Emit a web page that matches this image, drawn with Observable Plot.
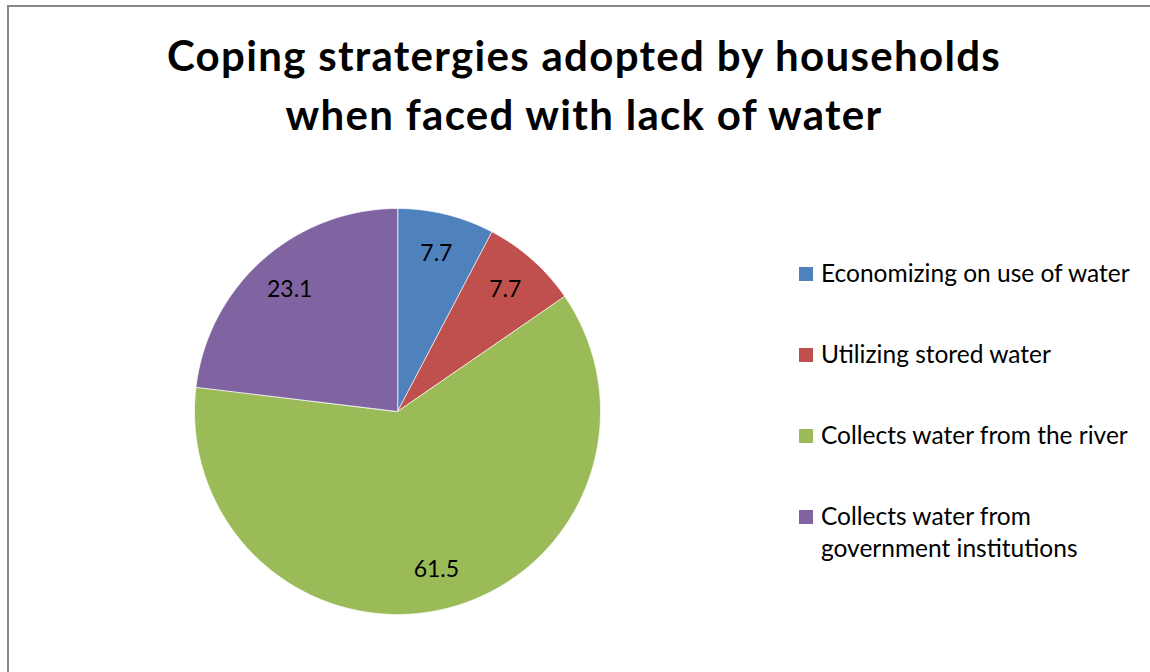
<!DOCTYPE html>
<html><head><meta charset="utf-8">
<script src="https://cdn.jsdelivr.net/npm/d3@7"></script>
<script src="https://cdn.jsdelivr.net/npm/@observablehq/plot@0.6"></script>
<style>
body{margin:0;background:#fff;}
#wrap{position:relative;width:1150px;height:672px;overflow:hidden;background:#fff;font-family:Lato,"Open Sans",sans-serif;color:#000;}
#frame{position:absolute;left:7px;top:5px;width:2000px;height:2000px;border-left:2px solid #878787;border-top:2px solid #878787;}
#plot{position:absolute;left:0;top:0;}
#title{position:absolute;left:0;top:26px;width:1168px;text-align:center;font-weight:bold;font-size:42px;letter-spacing:1.3px;line-height:59px;}
#legend{position:absolute;left:799px;top:257px;display:flex;flex-direction:column;gap:49px;}
.item{position:relative;padding-left:22px;width:330px;font-size:24.5px;line-height:32px;}
.sw{position:absolute;left:0;top:10px;width:14px;height:14px;}
</style></head>
<body>
<div id="wrap">
  <div id="frame"></div>
  <div id="plot"></div>
  <div id="title">Coping stratergies adopted by households<br>when faced with lack of water</div>
  <div id="legend"></div>
</div>
<script>
const categories = ["Economizing on use of water","Utilizing stored water","Collects water from the river","Collects water from government institutions"];
const values = [7.7, 7.7, 61.5, 23.1];
const labels = ["7.7","7.7","61.5","23.1"];
const colors = ["#4F81BD","#C0504D","#9BBB59","#8064A2"];

const data = categories.map((c,i)=>({category:c, value:values[i], label:labels[i], color:colors[i]}));
const arcs = d3.pie().sort(null).value(d=>d.value)(data);

const sliceMarks = arcs.map(a=>{
  const pts = [{x:0,y:0}];
  const n = Math.max(2, Math.ceil((a.endAngle-a.startAngle)/(Math.PI/360)));
  for(let k=0;k<=n;k++){
    const t = a.startAngle + (a.endAngle-a.startAngle)*k/n;
    pts.push({x:Math.sin(t), y:Math.cos(t)});
  }
  return Plot.line(pts,{x:"x",y:"y",fill:a.data.color,stroke:"#ffffff",strokeOpacity:0.7,strokeWidth:1,curve:"linear-closed"});
});

const labelR = 0.8;
const labelData = arcs.map(a=>{
  const m = (a.startAngle+a.endAngle)/2;
  return {x:labelR*Math.sin(m), y:labelR*Math.cos(m), text:a.data.label};
});

const chart = Plot.plot({
  width:1150, height:672, margin:0,
  style:{fontFamily:"Lato, 'Open Sans', sans-serif", background:"transparent"},
  x:{domain:[-1,1], range:[194,600], axis:null},
  y:{domain:[-1,1], range:[614,208], axis:null},
  marks:[
    ...sliceMarks,
    Plot.text(labelData,{x:"x",y:"y",text:"text",fontSize:23,fill:"#000"})
  ]
});
document.getElementById("plot").appendChild(chart);

const leg = d3.select("#legend");
data.forEach(d=>{
  const it = leg.append("div").attr("class","item");
  it.append("span").attr("class","sw").style("background",d.color);
  it.append("span").text(d.category);
});
</script>
</body></html>
